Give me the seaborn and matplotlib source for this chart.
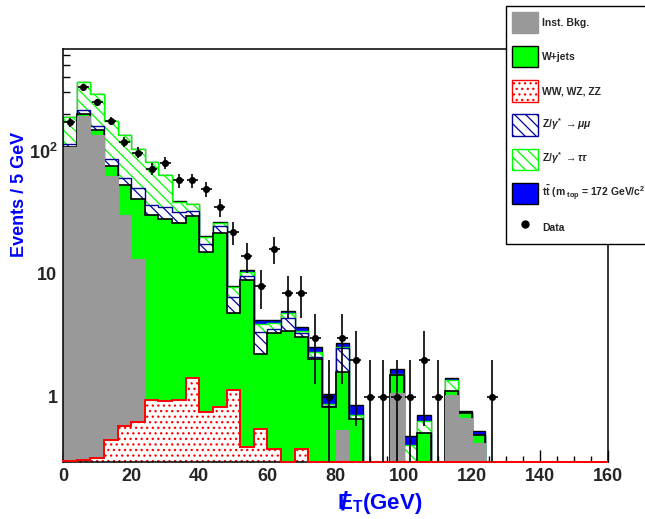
import numpy as np
import matplotlib
matplotlib.use("Agg")
import matplotlib.pyplot as plt
import seaborn as sns
import pandas as pd
from matplotlib.patches import Patch
from matplotlib.lines import Line2D
from matplotlib.ticker import FixedLocator, FixedFormatter, MultipleLocator, NullFormatter

# ---------------- data (4 GeV bins, 0-160 GeV) ----------------
met_lo, met_hi, bin_width = 0, 160, 4

ww = [0.30, 0.31, 0.32, 0.45, 0.58, 0.63, 0.94, 0.92, 0.94, 1.42, 0.75, 0.83, 1.14, 0.39,
      0.55, 0.38, 0, 0.38] + [0] * 22
inst_bkg = [106.7, 192.7, 134.7, 62.4, 29.7, 12.5] + [0] * 14 + \
           [0.54, 0, 0, 0, 1.08, 0, 0, 0, 1.04, 0.67, 0.42] + [0] * 9
wjets = [0.5, 6, 13, 12.6, 22.5, 27.3, 29.1, 26.9, 24.9, 28.1, 14.45, 20.9, 3.7, 8.53, 1.69,
         2.92, 3.44, 2.72, 2.02, 0.83, 1.06, 0.66, 0, 0, 0.43, 0, 0.51, 0, 0.08, 0.07, 0.07] + [0] * 9
z_mumu = [6.5, 16, 12, 10.6, 7.2, 9.2, 6.5, 7.5, 6.3, 3.0, 2.4, 2.9, 1.61, 0.75, 1.12, 0.25,
          0.92, 0.23, 0.08, 0.01, 0.89] + [0] * 19
z_tautau = [74, 147, 129, 89, 75, 53.4, 45.1, 28.2, 6.6, 4.5, 2.5, 1.4, 1.35, 0.73, 0.56, 0.42,
            0.43, 0.13, 0.23, 0.04, 0.04, 0.05, 0, 0, 0.02, 0.41, 0.13, 0, 0.25] + [0] * 11
ttbar = [0, 0, 0, 0, 0, 0, 0.2, 0.2, 0.2, 0.2, 0.2, 0.3, 0.2, 0.4, 0.31, 0.26, 0.24, 0.24,
         0.22, 0.18, 0.2, 0.15, 0, 0, 0.16, 0.07, 0.07, 0, 0.05, 0.03, 0.04] + [0] * 9
data_counts = [171, 333, 251, 176, 118, 97, 72, 80, 58, 58, 49, 35, 22, 14, 8, 16, 7, 7, 3, 1,
               3, 2, 1, 1, 1, 1, 2, 1, 0, 0, 0, 1] + [0] * 8

legend_labels = ["Inst. Bkg.", "W+jets", "WW, WZ, ZZ",
                 r"Z/$\gamma^{*}$ $\rightarrow\mu\mu$",
                 r"Z/$\gamma^{*}$ $\rightarrow\tau\tau$",
                 r"t$\bar{\rm t}$ (m$_{\rm \ top}$ = 172 GeV/c$^{2}$)",
                 "Data"]
x_ticks = [0, 20, 40, 60, 80, 100, 120, 140, 160]
y_ticks = [1, 10, 100]
y_ticklabels = ["1", "10", r"10$^{2}$"]

# ---------------- style ----------------
sns.set_theme(style="white")
plt.rcParams["font.family"] = ["Liberation Sans", "DejaVu Sans"]
plt.rcParams["font.weight"] = "bold"
plt.rcParams["mathtext.fontset"] = "custom"
plt.rcParams["mathtext.rm"] = "Liberation Sans:bold"
plt.rcParams["mathtext.bf"] = "Liberation Sans:bold"
plt.rcParams["mathtext.it"] = "Liberation Sans:bold:italic"
plt.rcParams["hatch.linewidth"] = 0.9

fig = plt.figure(figsize=(6.45, 5.19), dpi=100)
fig.patch.set_facecolor("white")
ax = fig.add_axes([63 / 645, 1 - 462 / 519, 545 / 645, 413 / 519])
ax.set_facecolor("white")
ax.set_yscale("log")
ylo, yhi = 0.296, 675
ax.set_xlim(met_lo, met_hi)
ax.set_ylim(ylo, yhi)

edges = np.arange(met_lo, met_hi + bin_width, bin_width)
centers = edges[:-1] + bin_width / 2

components = np.vstack([ww, inst_bkg, wjets, z_mumu, z_tautau, ttbar]).astype(float)
cum = np.cumsum(components, axis=0)

# style per layer, bottom to top: (face, hatch, hatch colour, outline colour, outline width)
styles = [
    ("white", "...", "#ff0000", "#ff0000", 1.4),
    ("#999999", None, "#999999", "#999999", 0.8),
    ("#00ff00", None, "#00ff00", "black", 1.2),
    ("white", "\\\\\\", "#000099", "#000099", 1.0),
    ("white", "\\\\\\", "#00ff00", "#00ff00", 1.0),
    ("#0000ff", None, "#0000ff", "black", 1.0),
]
floor = 1e-3
for k in reversed(range(6)):
    fc, h, hc, lc, lw = styles[k]
    vals = np.maximum(cum[k], floor)
    ax.stairs(vals, edges, baseline=floor, fill=True, facecolor=fc, edgecolor=hc,
              hatch=h, linewidth=0, zorder=1 + (6 - k) * 0.01)
    if k == 0:
        ax.stairs(np.maximum(cum[k], ylo), edges, baseline=ylo, fill=False, edgecolor=lc,
                  linewidth=lw, zorder=3, clip_on=False)
    else:
        ax.stairs(vals, edges, baseline=floor, fill=False, edgecolor=lc, linewidth=lw,
                  zorder=1.005 + (6 - k) * 0.01)

# data points
d = np.array(data_counts, dtype=float)
m = d > 0
err = np.sqrt(d[m])
lower = np.minimum(err, d[m] - 1e-4)
ax.errorbar(centers[m], d[m], yerr=[lower, err], xerr=1.6, fmt="none", ecolor="black",
            elinewidth=1.2, capsize=0, zorder=9)
df = pd.DataFrame({"met": centers[m], "events": d[m]})
sns.scatterplot(data=df, x="met", y="events", color="black", s=26, edgecolor="black",
                linewidth=0, ax=ax, zorder=10, legend=False)

# axes cosmetics
ax.set_xlabel("")
ax.set_ylabel("")
for s in ax.spines.values():
    s.set_color("black")
    s.set_linewidth(1.1)
ax.xaxis.set_major_locator(FixedLocator(x_ticks))
ax.xaxis.set_minor_locator(MultipleLocator(5))
ax.yaxis.set_major_locator(FixedLocator(y_ticks))
ax.yaxis.set_major_formatter(FixedFormatter(y_ticklabels))
minor_y = [v * 10 ** e for e in (-1, 0, 1, 2) for v in range(2, 10)]
ax.yaxis.set_minor_locator(FixedLocator(minor_y))
ax.yaxis.set_minor_formatter(NullFormatter())
ax.tick_params(axis="both", which="both", direction="in", top=False, right=False,
               left=True, bottom=True, color="black", width=1.0)
ax.tick_params(axis="x", which="major", length=9, pad=4, labelsize=13)
ax.tick_params(axis="x", which="minor", length=4.5)
ax.tick_params(axis="y", which="major", length=9, pad=4, labelsize=13)
ax.tick_params(axis="y", which="minor", length=5)
for t in ax.get_xticklabels() + ax.get_yticklabels():
    t.set_fontweight("bold")

fig.text(20 / 645, 1 - 194 / 519, "Events / 5 GeV", rotation=90, ha="center", va="center",
         color="#0000ff", fontsize=13, fontweight="bold")
fig.text(337 / 645, 1 - 503 / 519, r"E$_{\rm T}$(GeV)", ha="left",
         va="center", color="#0000ff", fontsize=16, fontweight="bold")
fig.text(344 / 645, 1 - 503 / 519, "/", ha="center",
         va="center", color="#0000ff", fontsize=18, fontweight="bold")

# legend
handles = [
    Patch(facecolor="#999999", edgecolor="#999999", linewidth=1),
    Patch(facecolor="#00ff00", edgecolor="black", linewidth=1),
    Patch(facecolor="white", edgecolor="#ff0000", hatch="...", linewidth=1),
    Patch(facecolor="white", edgecolor="#000099", hatch="\\\\\\", linewidth=1),
    Patch(facecolor="white", edgecolor="#00ff00", hatch="\\\\\\", linewidth=1),
    Patch(facecolor="#0000ff", edgecolor="black", linewidth=1),
    Line2D([], [], marker="o", color="black", linestyle="none", markersize=5),
]
leg = fig.legend(handles, legend_labels, loc="upper left",
                 bbox_to_anchor=(506 / 645, 1 - 6 / 519), bbox_transform=fig.transFigure,
                 borderaxespad=0, borderpad=0.55, handlelength=2.5, handleheight=2.8,
                 labelspacing=1.22, handletextpad=0.45, frameon=True, fancybox=False,
                 prop={"family": "Liberation Sans", "weight": "bold", "size": 7.5})
leg.get_frame().set_edgecolor("black")
leg.get_frame().set_linewidth(1.0)
leg.get_frame().set_facecolor("white")
leg.get_frame().set_alpha(1)

fig.savefig("out.png", dpi=100)
